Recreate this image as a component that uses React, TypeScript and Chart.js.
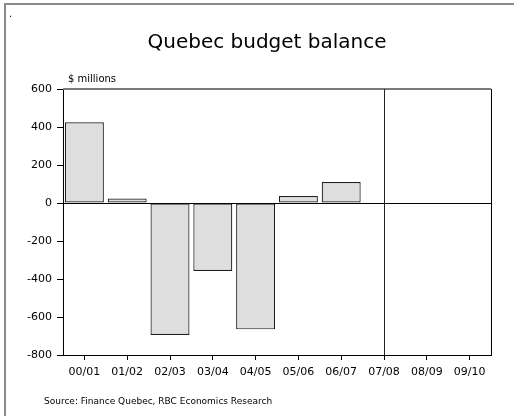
import React, { useEffect, useRef } from "react";
import { Chart, registerables } from "chart.js";

Chart.register(...registerables);

const categories = ["00/01", "01/02", "02/03", "03/04", "04/05", "05/06", "06/07", "07/08", "08/09", "09/10"];
const balance = [425, 24, -695, -358, -665, 37, 110, -2, -2, -2];
const yTicks = [-800, -600, -400, -200, 0, 200, 400, 600];
const titleText = "Quebec budget balance";
const unitText = "$ millions";
const sourceText = "Source: Finance Quebec, RBC Economics Research";
const forecastStart = "07/08";

const FONT = "'DejaVu Sans', Verdana, sans-serif";

const decorations = {
  id: "decorations",
  afterDraw(chart: any) {
    const ctx = chart.ctx as CanvasRenderingContext2D;
    const area = chart.chartArea;
    const x = chart.scales.x;
    ctx.save();

    // outer frame
    ctx.strokeStyle = "#8a8a8a";
    ctx.lineWidth = 2;
    ctx.beginPath();
    ctx.moveTo(5, 420);
    ctx.lineTo(5, 4);
    ctx.lineTo(520, 4);
    ctx.stroke();

    ctx.fillStyle = "#000";
    ctx.font = `10px ${FONT}`;
    ctx.textAlign = "left";
    ctx.textBaseline = "middle";
    ctx.fillText(".", 9, 14);

    // title
    ctx.font = `20px ${FONT}`;
    ctx.textAlign = "center";
    ctx.fillText(titleText, 267, 43);

    // unit label
    ctx.font = `10px ${FONT}`;
    ctx.textAlign = "left";
    ctx.fillText(unitText, 68, 79);

    // source note
    ctx.font = `9px ${FONT}`;
    ctx.fillText(sourceText, 44, 402);

    // top and right edges of the plot
    ctx.strokeStyle = "#7a7a7a";
    ctx.lineWidth = 2;
    ctx.beginPath();
    ctx.moveTo(area.left, area.top);
    ctx.lineTo(area.right, area.top);
    ctx.stroke();

    ctx.strokeStyle = "#000";
    ctx.lineWidth = 1;
    ctx.beginPath();
    ctx.moveTo(Math.round(area.right) + 0.5, area.top);
    ctx.lineTo(Math.round(area.right) + 0.5, area.bottom);
    ctx.stroke();

    // divider before projections
    const fx = Math.round(x.getPixelForValue(categories.indexOf(forecastStart))) + 0.5;
    ctx.strokeStyle = "#222";
    ctx.beginPath();
    ctx.moveTo(fx, area.top);
    ctx.lineTo(fx, area.bottom);
    ctx.stroke();

    ctx.restore();
  },
};

export default function App() {
  const ref = useRef<HTMLCanvasElement | null>(null);

  useEffect(() => {
    if (!ref.current) return;
    const chart = new Chart(ref.current, {
      type: "bar",
      data: {
        labels: categories,
        datasets: [
          {
            data: balance,
            backgroundColor: "#dedede",
            borderColor: "#1e1e1e",
            borderWidth: 1.2,
            borderSkipped: false,
            barPercentage: 0.91,
            categoryPercentage: 1,
          },
        ],
      },
      options: {
        responsive: false,
        animation: false,
        layout: { padding: { left: 0, right: 23, top: 89, bottom: 0 } },
        plugins: {
          legend: { display: false },
          tooltip: { enabled: false },
          title: { display: false },
        },
        scales: {
          x: {
            offset: true,
            grid: {
              offset: false,
              color: "transparent",
              tickColor: "#000",
              tickLength: 5,
              drawOnChartArea: false,
            },
            border: { display: true, color: "#000", width: 1 },
            ticks: {
              color: "#000",
              font: { family: FONT, size: 11 },
              padding: 6,
              maxRotation: 0,
              autoSkip: false,
            },
            afterFit(scale: any) {
              scale.height = 61;
            },
          },
          y: {
            min: -800,
            max: 600,
            afterBuildTicks(scale: any) {
              scale.ticks = yTicks.map((v) => ({ value: v }));
            },
            grid: {
              color: (c: any) => (c.tick && c.tick.value === 0 ? "#000" : "transparent"),
              tickColor: "#000",
              tickLength: 6,
            },
            border: { display: true, color: "#000", width: 1 },
            ticks: {
              color: "#000",
              font: { family: FONT, size: 11 },
              padding: 5,
            },
            afterFit(scale: any) {
              scale.width = 63;
            },
          },
        },
      },
      plugins: [decorations],
    });
    return () => chart.destroy();
  }, []);

  return (
    <div style={{ position: "absolute", left: 0, top: 0, width: 514, height: 416, background: "#fff" }}>
      <canvas ref={ref} width={514} height={416} style={{ display: "block" }} />
    </div>
  );
}
